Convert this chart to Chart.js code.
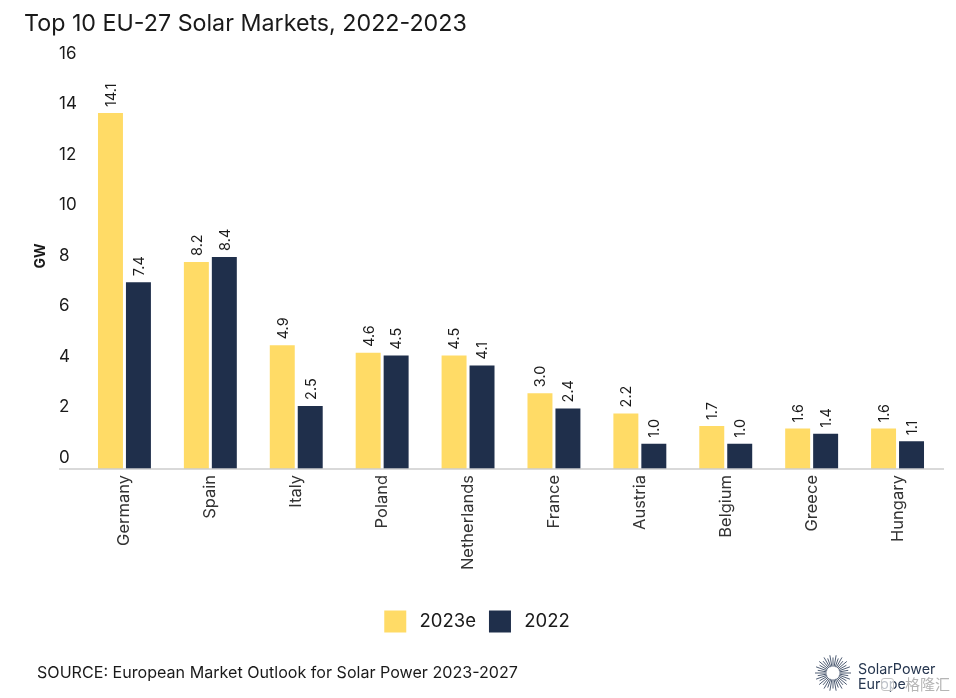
<!DOCTYPE html>
<html lang="en">
<head>
  <meta charset="UTF-8" />
  <title>Top 10 EU-27 Solar Markets</title>
  <script src="https://cdn.jsdelivr.net/npm/chart.js"></script>
  <style>
    html, body { margin: 0; padding: 0; background: #fff; overflow: hidden; }
    #wrap { position: relative; width: 956px; height: 698px; }
    #grafico { position: absolute; left: 0; top: 0; }
    .txt { position: absolute; white-space: nowrap; font-family: Inter, sans-serif; color: #1a1a1a; }
    #titulo { left: 24px; top: 8px; font-size: 23.25px; line-height: 30px; }
    #fonte { left: 37px; top: 661px; font-size: 16.1px; line-height: 22px; }
    #marca { left: 858px; top: 661px; font-size: 14.3px; line-height: 15px; color: #26364f; }
    #selo { left: 905px; top: 673px; font-size: 15px; line-height: 22px; font-family: "Noto Sans CJK SC"; color: #b5b5b5; text-shadow: 0 0 3px #fff, 0 0 3px #fff; }
    #selo-icone { position: absolute; left: 881px; top: 678px; width: 11px; height: 11px; border: 1.5px solid #c4c4c4; border-radius: 3px; background: rgba(255,255,255,.7); }
  </style>
</head>
<body>
<div id="wrap">
  <canvas id="grafico" width="956" height="698"></canvas>
  <div class="txt" id="titulo">Top 10 EU-27 Solar Markets, 2022-2023</div>
  <div class="txt" id="fonte">SOURCE: European Market Outlook for Solar Power 2023-2027</div>
  <div class="txt" id="marca">SolarPower<br>Europe</div>
  <div id="selo-icone"></div>
  <div class="txt" id="selo">格隆汇</div>
</div>

<script>
  const paises = ["Germany", "Spain", "Italy", "Poland", "Netherlands", "France", "Austria", "Belgium", "Greece", "Hungary"];
  const valores2023 = [14.1, 8.2, 4.9, 4.6, 4.5, 3.0, 2.2, 1.7, 1.6, 1.6];
  const valores2022 = [7.4, 8.4, 2.5, 4.5, 4.1, 2.4, 1.0, 1.0, 1.4, 1.1];
  const marcasY = [0, 2, 4, 6, 8, 10, 12, 14, 16];

  const AMARELO = "#ffdb66";
  const AZUL = "#1f2f4b";
  const FONTE = "Inter, sans-serif";

  // linha do eixo, titulo GW, rotulos das barras e o sol do logo
  const extras = {
    id: "extras",
    afterLayout(chart) {
      // legenda centrada na pagina, nao na area do grafico
      const desvio = 475 - (chart.legend.left + chart.legend.right) / 2;
      chart.legend.left += desvio;
      chart.legend.right += desvio;
    },
    afterDatasetsDraw(chart) {
      const { ctx, scales } = chart;
      const y0 = scales.y.getPixelForValue(0);

      ctx.save();
      ctx.strokeStyle = "#cccccc";
      ctx.lineWidth = 1.5;
      ctx.beginPath();
      ctx.moveTo(scales.y.left, y0);
      ctx.lineTo(scales.x.right + 3.5, y0);
      ctx.stroke();

      ctx.fillStyle = "#1a1a1a";
      ctx.font = "bold 14px " + FONTE;
      ctx.textAlign = "center";
      ctx.textBaseline = "middle";
      ctx.translate(41, 256);
      ctx.rotate(-Math.PI / 2);
      ctx.fillText("GW", 0, 0);
      ctx.restore();

      chart.data.datasets.forEach((ds, i) => {
        chart.getDatasetMeta(i).data.forEach((bar, j) => {
          ctx.save();
          ctx.translate(bar.x + 1, bar.y - 6);
          ctx.rotate(-Math.PI / 2);
          ctx.fillStyle = "#1a1a1a";
          ctx.font = "14.5px " + FONTE;
          ctx.textAlign = "left";
          ctx.textBaseline = "middle";
          ctx.fillText(ds.data[j].toFixed(1), 0, 0);
          ctx.restore();
        });
      });

      ctx.save();
      ctx.translate(833, 673);
      ctx.strokeStyle = "#3a4a63";
      ctx.lineWidth = 0.9;
      for (let k = 0; k < 36; k++) {
        const a = k * Math.PI / 18;
        const r = k % 2 ? 15.5 : 18;
        ctx.beginPath();
        ctx.moveTo(Math.cos(a) * 6.5, Math.sin(a) * 6.5);
        ctx.lineTo(Math.cos(a) * r, Math.sin(a) * r);
        ctx.stroke();
      }
      ctx.restore();
    }
  };

  new Chart(document.getElementById("grafico"), {
    type: "bar",
    data: {
      labels: paises,
      datasets: [
        { label: "2023e", data: valores2023, backgroundColor: AMARELO },
        { label: "2022", data: valores2022, backgroundColor: AZUL }
      ]
    },
    plugins: [extras],
    options: {
      responsive: false,
      animation: false,
      devicePixelRatio: 1,
      categoryPercentage: 0.651,
      barPercentage: 0.893,
      layout: { padding: { left: 59, right: 15.5, top: 65, bottom: 51.5 } },
      plugins: {
        tooltip: { enabled: false },
        title: { display: false },
        legend: {
          position: "bottom",
          labels: {
            // caixa maior com borda branca: afasta o texto do quadrado
            boxWidth: 30,
            boxHeight: 30,
            padding: 9,
            color: "#1a1a1a",
            font: { family: FONTE, size: 18.5 },
            generateLabels(chart) {
              return Chart.defaults.plugins.legend.labels.generateLabels(chart).map(item => {
                item.strokeStyle = "#ffffff";
                item.lineWidth = 8;
                return item;
              });
            }
          }
        }
      },
      scales: {
        x: {
          grid: { display: false, drawTicks: false },
          border: { display: false },
          ticks: {
            minRotation: 90,
            maxRotation: 90,
            autoSkip: false,
            padding: 6,
            color: "#333333",
            font: { family: FONTE, size: 16.5 }
          },
          afterFit(scale) { scale.height = 128.5; }
        },
        y: {
          min: 0,
          max: 16,
          afterBuildTicks(scale) { scale.ticks = marcasY.map(value => ({ value })); },
          grid: { display: false, drawTicks: false },
          border: { display: false },
          ticks: {
            autoSkip: false,
            crossAlign: "far",
            color: "#1a1a1a",
            font: { family: FONTE, size: 17, lineHeight: 1.35 },
            // os numeros ficam acima da marca do valor, como no original
            callback: v => [String(v), ""]
          },
          afterFit(scale) { scale.width = 22.5; }
        }
      }
    }
  });
</script>
</body>
</html>
